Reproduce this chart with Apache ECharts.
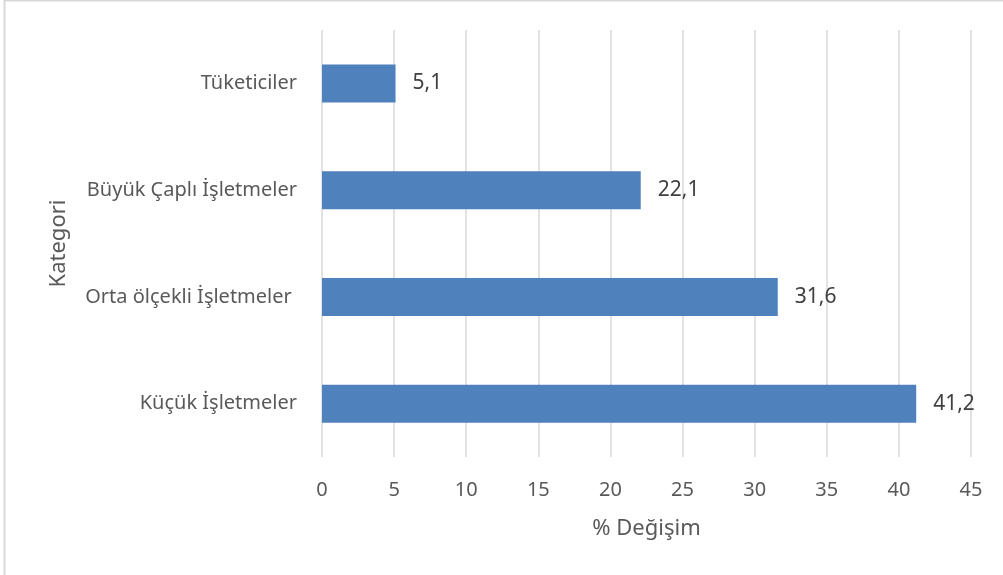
<!DOCTYPE html>
<html>
<head>
<meta charset="utf-8">
<script src="https://cdn.jsdelivr.net/npm/echarts@6/dist/echarts.min.js"></script>
<style>
  html, body { margin: 0; padding: 0; background: #fff; }
  #chart { width: 1003px; height: 575px; }
</style>
</head>
<body>
<div id="chart"></div>
<script>
const categories = ['Küçük İşletmeler', 'Orta ölçekli İşletmeler ', 'Büyük Çaplı İşletmeler', 'Tüketiciler'];
const values = [41.2, 31.6, 22.1, 5.1];
const xAxisTitle = '% Değişim';
const yAxisTitle = 'Kategori';

const FONT = '"Noto Sans", "Open Sans", sans-serif';
const chart = echarts.init(document.getElementById('chart'), null, { renderer: 'canvas' });
chart.setOption({
  animation: false,
  backgroundColor: '#ffffff',
  textStyle: { fontFamily: FONT },
  graphic: [
    { type: 'line', shape: { x1: 4.5, y1: 0, x2: 4.5, y2: 575 }, style: { stroke: '#d9d9d9', lineWidth: 2 } },
    { type: 'line', shape: { x1: 4, y1: 0.5, x2: 1003, y2: 0.5 }, style: { stroke: '#d9d9d9', lineWidth: 2 } }
  ],
  grid: { left: 322, right: 32, top: 30, bottom: 118, containLabel: false },
  xAxis: {
    type: 'value',
    min: 0, max: 45, interval: 5,
    name: xAxisTitle,
    nameLocation: 'middle',
    nameGap: 61,
    nameTextStyle: { color: '#595959', fontSize: 22, fontFamily: FONT },
    axisLine: { show: false },
    axisTick: { show: false },
    axisLabel: { color: '#595959', fontSize: 20, margin: 23, fontFamily: FONT },
    splitLine: { show: true, lineStyle: { color: '#d9d9d9', width: 1.5 } }
  },
  yAxis: {
    type: 'category',
    data: categories,
    name: yAxisTitle,
    nameLocation: 'middle',
    nameGap: 252,
    nameRotate: 90,
    nameTextStyle: { color: '#595959', fontSize: 22, fontFamily: FONT },
    axisLine: { show: false },
    axisTick: { show: false },
    axisLabel: { color: '#595959', fontSize: 20, margin: 25, fontFamily: FONT },
    splitLine: { show: false }
  },
  series: [{
    type: 'bar',
    data: values,
    barWidth: 38,
    itemStyle: { color: '#4f81bd' },
    label: {
      show: true,
      position: 'right',
      distance: 17,
      color: '#404040',
      fontSize: 21,
      fontFamily: FONT,
      formatter: p => String(p.value).replace('.', ',')
    }
  }]
});
</script>
</body>
</html>
